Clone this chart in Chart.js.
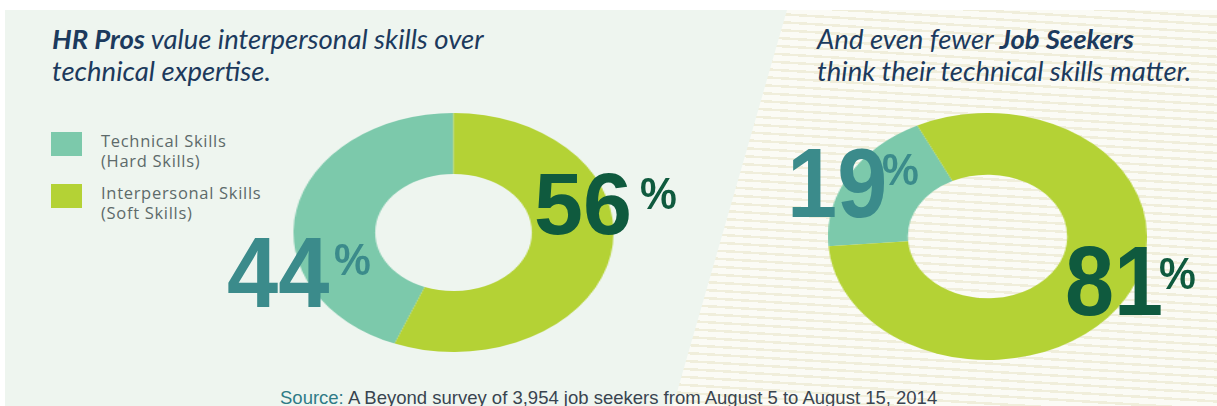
<!DOCTYPE html>
<html>
<head>
<meta charset="utf-8">
<script src="https://cdn.jsdelivr.net/npm/chart.js@4.4.1/dist/chart.umd.min.js"></script>
<style>
    html, body { margin: 0; padding: 0; background: #ffffff; }
    #page { position: relative; width: 1217px; height: 406px; overflow: hidden; background: #ffffff; }
    .panel { position: absolute; left: 5px; top: 10px; width: 1212px; height: 396px; background: #eef5ef; }
    .stripes {
        position: absolute; left: 5px; top: 10px; width: 1212px; height: 396px;
        background: repeating-linear-gradient(183.5deg, #fbfbf5 0px, #fbfbf5 5.5px, #f0eedb 5.5px, #f0eedb 8px);
        clip-path: polygon(782px 0px, 1212px 0px, 1212px 396px, 668px 396px);
    }
    .title {
        position: absolute; font-family: "Lato", sans-serif;
        font-style: italic; font-size: 27.5px; line-height: 32px; color: #1c3a5d; white-space: nowrap;
    }
    .title b { font-weight: bold; }
    .legend-box { position: absolute; width: 31px; height: 24px; }
    .legend-text {
        position: absolute; font-family: "Open Sans", sans-serif; font-size: 16.5px;
        line-height: 20px; letter-spacing: 0.7px; color: #5d6a6a; white-space: nowrap;
    }
    .donut { position: absolute; }
    .num {
        position: absolute; font-family: "Liberation Sans", Arial, sans-serif; font-weight: bold;
        line-height: 1; transform-origin: left top;
    }
    .pct {
        position: absolute; font-family: "Liberation Sans", Arial, sans-serif; font-size: 45px;
        font-weight: bold; line-height: 1; transform: scaleX(0.92); transform-origin: left top;
    }
    .source {
        position: absolute; left: 280px; top: 388px; font-family: "Liberation Sans", Arial, sans-serif;
        font-size: 18.5px; line-height: 20px; color: #39444f; white-space: nowrap;
    }
    .source span { color: #2f7b86; }
</style>
</head>
<body>
<div id="page">
    <div class="panel"></div>
    <div class="stripes"></div>

    <div class="title" style="left:52px; top:23px;"><b>HR Pros</b> value interpersonal skills over<br>technical expertise.</div>
    <div class="title" style="left:817px; top:23px;">And even fewer <b>Job Seekers</b><br>think their technical skills matter.</div>

    <div id="legend"></div>

    <div class="donut" id="hrWrap" style="left:333.5px; top:112.5px; width:239px; height:239px; transform:scaleX(1.339);">
        <canvas id="ChartHrPros"></canvas>
    </div>
    <div class="donut" id="seekerWrap" style="left:864px; top:113px; width:247px; height:247px; transform:scaleX(1.291);">
        <canvas id="ChartJobSeekers"></canvas>
    </div>

    <div id="labels"></div>

    <div class="source"><span>Source:</span> A Beyond survey of 3,954 job seekers from August 5 to August 15, 2014</div>
</div>

<script>
// skill categories, same order in both rings
var categories = ['Technical Skills', 'Interpersonal Skills'];
var categoryNotes = ['(Hard Skills)', '(Soft Skills)'];

// share of respondents (%) who rank each skill type first
var hrPros = [44, 56];
var jobSeekers = [19, 81];

var sliceColors = ['#7cc9ab', '#b4d235'];
var labelColors = ['#3b8b8b', '#0f5a3e'];

// legend (top left)
var legend = document.getElementById('legend');
var legendTops = [132, 184];
categories.forEach(function (name, i) {
    var box = document.createElement('div');
    box.className = 'legend-box';
    box.style.left = '51px';
    box.style.top = legendTops[i] + 'px';
    box.style.background = sliceColors[i];
    legend.appendChild(box);

    var txt = document.createElement('div');
    txt.className = 'legend-text';
    txt.style.left = '101px';
    txt.style.top = (legendTops[i] - 1) + 'px';
    txt.innerHTML = name + '<br>' + categoryNotes[i];
    legend.appendChild(txt);
});

function drawDonut(canvasId, values, rotation, cutout) {
    var ctx = document.getElementById(canvasId).getContext('2d');

    return new Chart(ctx, {
        type: 'doughnut',
        data: {
            labels: categories,
            datasets: [
                {
                    data: values,
                    backgroundColor: sliceColors,
                    borderWidth: 0,
                    hoverOffset: 0
                }
            ]
        },
        options: {
            responsive: true,
            maintainAspectRatio: false,
            animation: false,
            rotation: rotation,
            cutout: cutout,
            layout: { padding: 0 },
            plugins: {
                legend: { display: false },
                tooltip: { enabled: false }
            }
        }
    });
}

// interpersonal slice starts at 12 o'clock and runs clockwise
drawDonut('ChartHrPros', hrPros, hrPros[1] * 3.6, '49%');
drawDonut('ChartJobSeekers', jobSeekers, 265.5, '50%');

// big percentage figures
var labels = document.getElementById('labels');
function addFigure(value, color, x, y, size, squeeze, px, py) {
    var n = document.createElement('div');
    n.className = 'num';
    n.style.left = x + 'px';
    n.style.top = y + 'px';
    n.style.fontSize = size + 'px';
    n.style.transform = 'scaleX(' + squeeze + ')';
    n.style.color = color;
    n.textContent = value;
    labels.appendChild(n);

    var p = document.createElement('div');
    p.className = 'pct';
    p.style.left = px + 'px';
    p.style.top = py + 'px';
    p.style.color = color;
    p.textContent = '%';
    labels.appendChild(p);
}

addFigure(hrPros[0], labelColors[0], 227, 222, 100, 0.92, 334, 237);
addFigure(hrPros[1], labelColors[1], 534, 160, 88, 1.0, 640, 171);
addFigure(jobSeekers[0], labelColors[0], 787, 134, 98, 0.92, 882, 147);
addFigure(jobSeekers[1], labelColors[1], 1065, 232, 98, 0.9, 1159, 251);
</script>
</body>
</html>
